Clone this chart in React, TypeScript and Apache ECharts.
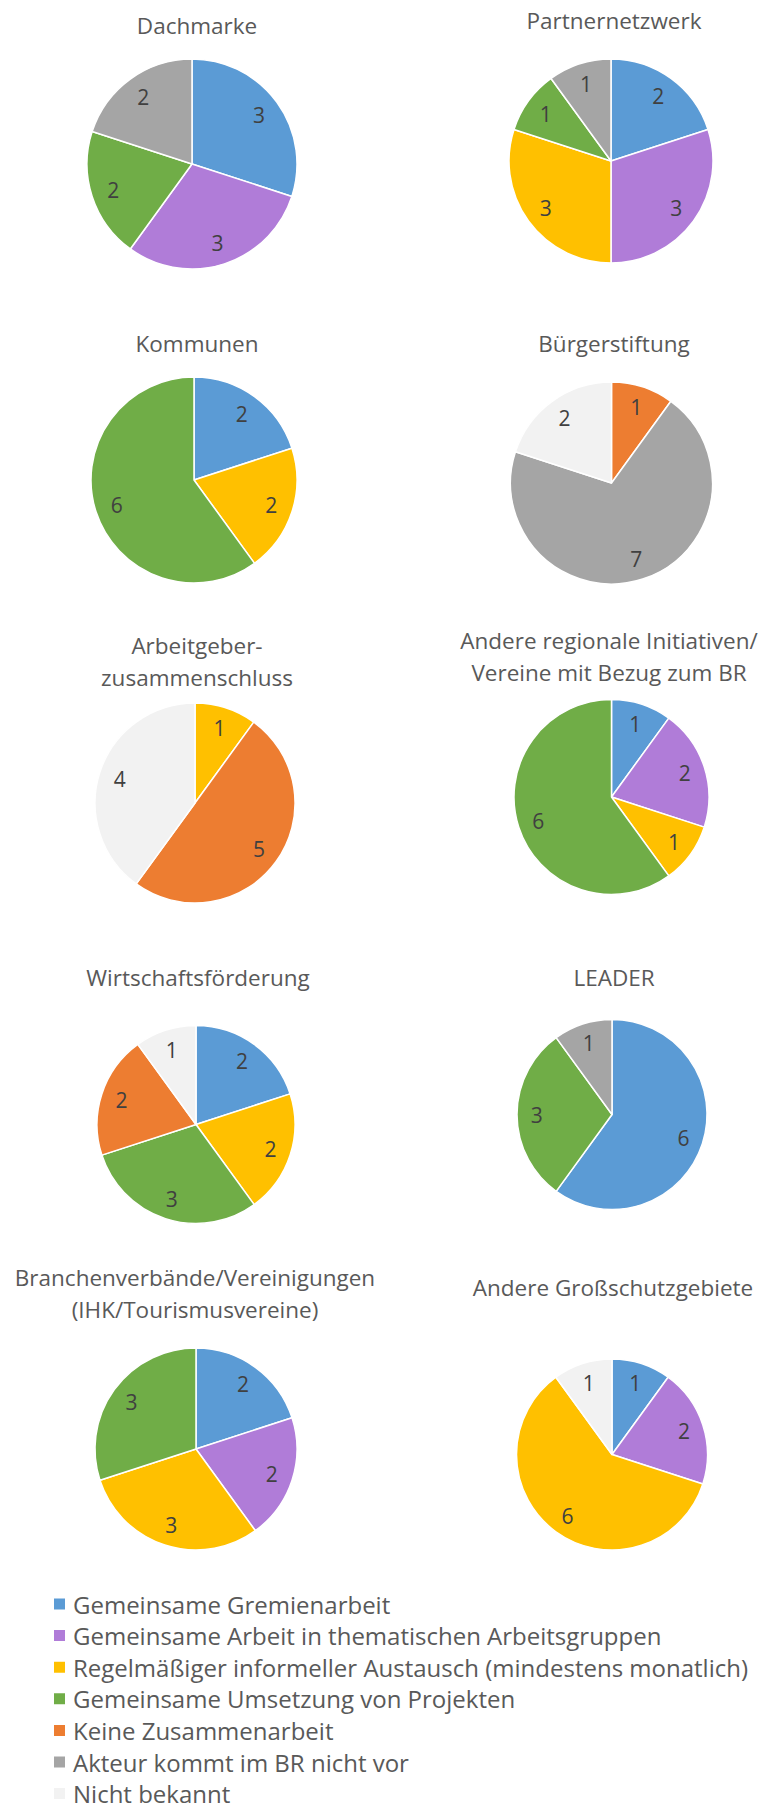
import React, { useEffect, useRef } from "react";
import * as echarts from "echarts";

const categories = [
  "Gemeinsame Gremienarbeit",
  "Gemeinsame Arbeit in thematischen Arbeitsgruppen",
  "Regelmäßiger informeller Austausch (mindestens monatlich)",
  "Gemeinsame Umsetzung von Projekten",
  "Keine Zusammenarbeit",
  "Akteur kommt im BR nicht vor",
  "Nicht bekannt",
];
const categoryColors = ["#5B9BD5", "#B07CD8", "#FFC000", "#70AD47", "#ED7D31", "#A5A5A5", "#F2F2F2"];

const chartTitles = [
  "Dachmarke",
  "Partnernetzwerk",
  "Kommunen",
  "Bürgerstiftung",
  "Arbeitgeber-\nzusammenschluss",
  "Andere regionale Initiativen/\nVereine mit Bezug zum BR",
  "Wirtschaftsförderung",
  "LEADER",
  "Branchenverbände/Vereinigungen\n(IHK/Tourismusvereine)",
  "Andere Großschutzgebiete",
];

const dachmarke = [3, 3, 0, 2, 0, 2, 0];
const partnernetzwerk = [2, 3, 3, 1, 0, 1, 0];
const kommunen = [2, 0, 2, 6, 0, 0, 0];
const buergerstiftung = [0, 0, 0, 0, 1, 7, 2];
const arbeitgeber = [0, 0, 1, 0, 5, 0, 4];
const andereRegionale = [1, 2, 1, 6, 0, 0, 0];
const wirtschaft = [2, 0, 2, 3, 2, 0, 1];
const leader = [6, 0, 0, 3, 0, 1, 0];
const branchen = [2, 2, 3, 3, 0, 0, 0];
const andereGross = [1, 2, 6, 0, 0, 0, 1];

const pieValues = [
  dachmarke,
  partnernetzwerk,
  kommunen,
  buergerstiftung,
  arbeitgeber,
  andereRegionale,
  wirtschaft,
  leader,
  branchen,
  andereGross,
];

// layout: pie center x, center y, radius, title center x, title top
const pieLayout = [
  { cx: 192, cy: 164, r: 105, tx: 197, ty: 9 },
  { cx: 611, cy: 161, r: 102, tx: 614, ty: 4 },
  { cx: 194, cy: 480, r: 103, tx: 197, ty: 327 },
  { cx: 611.5, cy: 483, r: 101, tx: 614, ty: 327 },
  { cx: 195, cy: 803, r: 100, tx: 197, ty: 629 },
  { cx: 611.5, cy: 797, r: 97.5, tx: 609, ty: 624 },
  { cx: 196, cy: 1124.5, r: 99, tx: 198, ty: 961 },
  { cx: 612, cy: 1114.5, r: 95, tx: 614, ty: 961 },
  { cx: 196, cy: 1449, r: 101, tx: 195, ty: 1261 },
  { cx: 612, cy: 1454.5, r: 95.5, tx: 613, ty: 1271 },
];

const FONT = "'Open Sans', 'Noto Sans', sans-serif";

function buildData(values: number[]) {
  const out: any[] = [];
  values.forEach((v, i) => {
    if (v > 0) {
      out.push({ name: categories[i], value: v, itemStyle: { color: categoryColors[i] } });
    }
  });
  return out;
}

export default function App() {
  const ref = useRef<HTMLDivElement>(null);

  useEffect(() => {
    if (!ref.current) return;
    const chart = echarts.init(ref.current, undefined, { renderer: "svg" });

    const series: any[] = [];
    pieValues.forEach((vals, k) => {
      const L = pieLayout[k];
      const data = buildData(vals);
      series.push({
        type: "pie",
        name: chartTitles[k],
        center: [L.cx, L.cy],
        radius: [0, L.r],
        startAngle: 90,
        clockwise: true,
        avoidLabelOverlap: false,
        silent: true,
        label: { show: false },
        labelLine: { show: false },
        itemStyle: { borderColor: "#ffffff", borderWidth: 1.5 },
        data,
      });
      series.push({
        type: "pie",
        name: chartTitles[k] + " labels",
        center: [L.cx, L.cy],
        radius: [L.r * 0.52, L.r],
        startAngle: 90,
        clockwise: true,
        avoidLabelOverlap: false,
        silent: true,
        label: {
          show: true,
          position: "inside",
          formatter: "{c}",
          color: "#404040",
          fontSize: 21,
          fontFamily: FONT,
        },
        labelLine: { show: false },
        itemStyle: { color: "rgba(0,0,0,0)", borderWidth: 0 },
        data: data.map((d) => ({ name: d.name, value: d.value, itemStyle: { color: "rgba(0,0,0,0)" } })),
      });
    });

    const titles = chartTitles.map((t, k) => ({
      text: t,
      left: pieLayout[k].tx,
      top: pieLayout[k].ty,
      textAlign: "center",
      padding: 0,
      textStyle: {
        fontFamily: FONT,
        fontSize: 22.5,
        fontWeight: "normal",
        color: "#595959",
        lineHeight: 32,
      },
    }));

    chart.setOption({
      animation: false,
      backgroundColor: "#ffffff",
      title: titles,
      legend: {
        data: categories.map((c, i) => ({ name: c, itemStyle: { color: categoryColors[i] } })),
        orient: "vertical",
        left: 52,
        top: 1592,
        height: 260,
        icon: "rect",
        itemWidth: 13,
        itemHeight: 13,
        itemGap: 7.6,
        selectedMode: false,
        padding: 0,
        textStyle: {
          fontFamily: FONT,
          fontSize: 24,
          color: "#595959",
          lineHeight: 24,
          padding: [0, 0, 0, 2],
        },
      },
      series,
    });

    return () => {
      chart.dispose();
    };
  }, []);

  return (
    <div
      ref={ref}
      style={{ position: "absolute", left: 0, top: 0, width: 766, height: 1810, background: "#fff" }}
    />
  );
}
